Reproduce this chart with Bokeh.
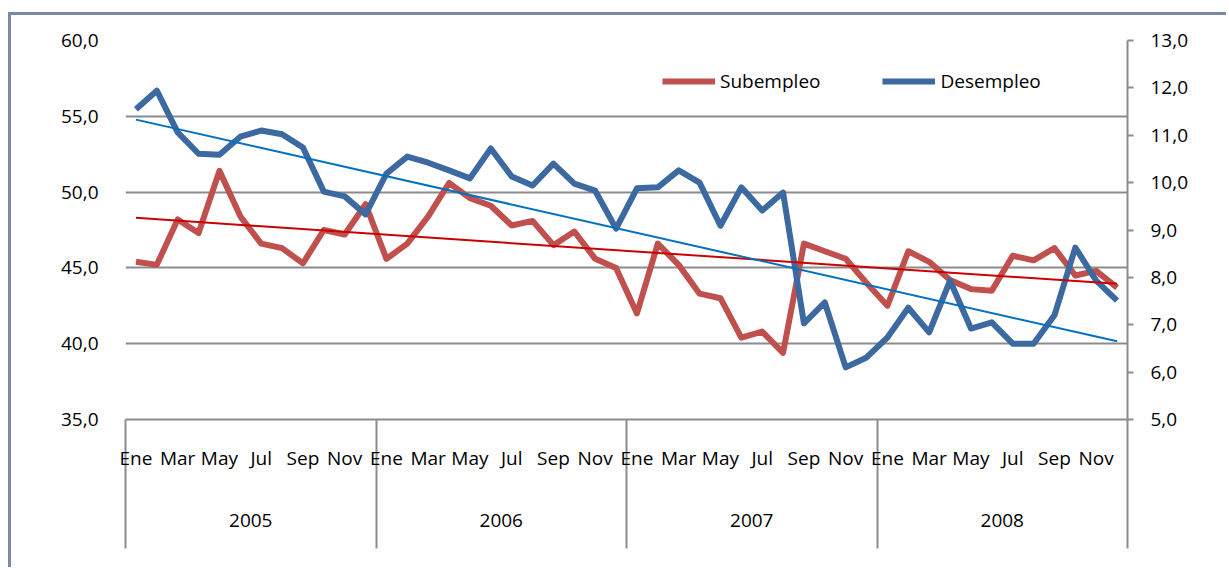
import numpy as np
from bokeh.plotting import figure
from bokeh.models import (LinearAxis, Range1d, FixedTicker, CustomJSTickFormatter,
                          Legend, LegendItem, ColumnDataSource, Grid)
from bokeh.embed import file_html
from bokeh.resources import INLINE

months = ["Ene", "Feb", "Mar", "Abr", "May", "Jun", "Jul", "Ago", "Sep", "Oct", "Nov", "Dic"]
years = ["2005", "2006", "2007", "2008"]

subempleo = [
    45.4, 45.2, 48.2, 47.3, 51.4, 48.4, 46.6, 46.3, 45.3, 47.5, 47.2, 49.2,
    45.6, 46.6, 48.4, 50.6, 49.6, 49.1, 47.8, 48.1, 46.5, 47.4, 45.6, 45.0,
    42.0, 46.6, 45.2, 43.3, 43.0, 40.4, 40.8, 39.4, 46.6, 46.1, 45.6, 44.0,
    42.5, 46.1, 45.4, 44.2, 43.6, 43.5, 45.8, 45.5, 46.3, 44.5, 44.8, 43.7]

desempleo = [
    11.55, 11.94, 11.06, 10.61, 10.59, 10.97, 11.10, 11.02, 10.74, 9.81, 9.71, 9.33,
    10.19, 10.55, 10.42, 10.26, 10.09, 10.72, 10.13, 9.94, 10.40, 9.98, 9.83, 9.03,
    9.88, 9.90, 10.26, 10.00, 9.09, 9.90, 9.41, 9.79, 7.03, 7.47, 6.10, 6.31,
    6.73, 7.36, 6.84, 7.93, 6.92, 7.05, 6.60, 6.60, 7.20, 8.63, 7.93, 7.51]

# linear trend lines (start / end values)
trend_subempleo = [48.30, 43.95]
trend_desempleo = [11.33, 6.65]

left_ticks = [35, 40, 45, 50, 55, 60]
right_ticks = [5, 6, 7, 8, 9, 10, 11, 12, 13]

n = len(subempleo)
xs = np.arange(n) + 0.5
src = ColumnDataSource(dict(x=xs, sub=subempleo, des=desempleo))
trend = ColumnDataSource(dict(x=[xs[0], xs[-1]], sub=trend_subempleo, des=trend_desempleo))

FONT = "Open Sans"
FS = "19px"
GRAY = "#8c8c8c"
RED = "#C0504D"
BLUE = "#3B69A0"

p = figure(width=1218, height=555, x_range=Range1d(0, n), y_range=Range1d(35, 60),
           output_backend="svg", toolbar_location=None,
           x_axis_location=None, y_axis_location=None,
           min_border_left=114, min_border_right=102, min_border_top=25, min_border_bottom=151)
for g in p.grid:
    g.visible = False
p.outline_line_color = None
p.background_fill_color = "white"
p.border_fill_color = "white"
p.styles = {"border-left": "3px solid #7a8aa0", "border-top": "3px solid #7a8aa0",
            "margin-top": "12px", "margin-left": "8px"}
p.extra_y_ranges = {"right": Range1d(5, 13)}

num_fmt = CustomJSTickFormatter(code="return tick.toFixed(1).replace('.', ',');")

# left axis
left_ticker = FixedTicker(ticks=left_ticks)
la = LinearAxis(ticker=left_ticker, formatter=num_fmt)
la.axis_line_color = None
la.major_tick_line_color = None
la.minor_tick_line_color = None
la.major_label_standoff = 21
la.major_label_text_font = FONT
la.major_label_text_font_size = FS
la.major_label_text_color = "black"
p.add_layout(la, "left")

p.add_layout(Grid(dimension=1, ticker=left_ticker, grid_line_color=GRAY, grid_line_width=2))

# right axis
ra = LinearAxis(y_range_name="right", ticker=FixedTicker(ticks=right_ticks), formatter=num_fmt)
ra.axis_line_color = GRAY
ra.axis_line_width = 2
ra.major_tick_line_color = GRAY
ra.major_tick_line_width = 2
ra.major_tick_in = 0
ra.major_tick_out = 6
ra.minor_tick_line_color = None
ra.major_label_standoff = 17
ra.major_label_text_font = FONT
ra.major_label_text_font_size = FS
ra.major_label_text_color = "black"
p.add_layout(ra, "right")

# month axis with year separators as long minor ticks
month_ticks = [i + 0.5 for i in range(0, n, 2)]
sep_ticks = [i for i in range(0, n + 1, 12)]
ma = LinearAxis(ticker=FixedTicker(ticks=month_ticks, minor_ticks=sep_ticks),
                formatter=CustomJSTickFormatter(args=dict(labels=months),
                                                code="return labels[Math.floor(tick) % 12];"))
ma.axis_line_color = GRAY
ma.axis_line_width = 2
ma.major_tick_line_color = None
ma.major_tick_out = 0
ma.major_tick_in = 0
ma.minor_tick_line_color = GRAY
ma.minor_tick_line_width = 2
ma.minor_tick_in = 0
ma.minor_tick_out = 129
ma.major_label_standoff = -104
ma.major_label_text_font = FONT
ma.major_label_text_font_size = FS
ma.major_label_text_color = "black"
p.add_layout(ma, "below")

year_ticks = [i * 12 + 6 for i in range(len(years))]
ya = LinearAxis(ticker=FixedTicker(ticks=year_ticks),
                formatter=CustomJSTickFormatter(args=dict(labels=years),
                                                code="return labels[Math.floor(tick / 12)];"))
ya.axis_line_color = None
ya.major_tick_line_color = None
ya.minor_tick_line_color = None
ya.major_tick_out = 0
ya.major_tick_in = 0
ya.major_label_standoff = 40
ya.major_label_text_font = FONT
ya.major_label_text_font_size = FS
ya.major_label_text_color = "black"
p.add_layout(ya, "below")

r_sub = p.line("x", "sub", source=src, line_color=RED, line_width=6, line_join="round")
r_des = p.line("x", "des", source=src, y_range_name="right", line_color=BLUE, line_width=6, line_join="round")
p.line("x", "sub", source=trend, line_color="#CC0000", line_width=2)
p.line("x", "des", source=trend, y_range_name="right", line_color="#0070C0", line_width=2)

legend = Legend(items=[LegendItem(label="Subempleo", renderers=[r_sub]),
                       LegendItem(label="Desempleo", renderers=[r_des])],
                location=(537, 325), orientation="horizontal")
legend.padding = 0
legend.margin = 0
legend.spacing = 62
legend.glyph_width = 53
legend.glyph_height = 20
legend.label_height = 20
legend.label_standoff = 5
legend.label_text_font = FONT
legend.label_text_font_size = FS
legend.label_text_color = "black"
legend.border_line_color = None
legend.background_fill_alpha = 0
p.add_layout(legend, "center")

open("out.html", "w").write(file_html(p, INLINE))
